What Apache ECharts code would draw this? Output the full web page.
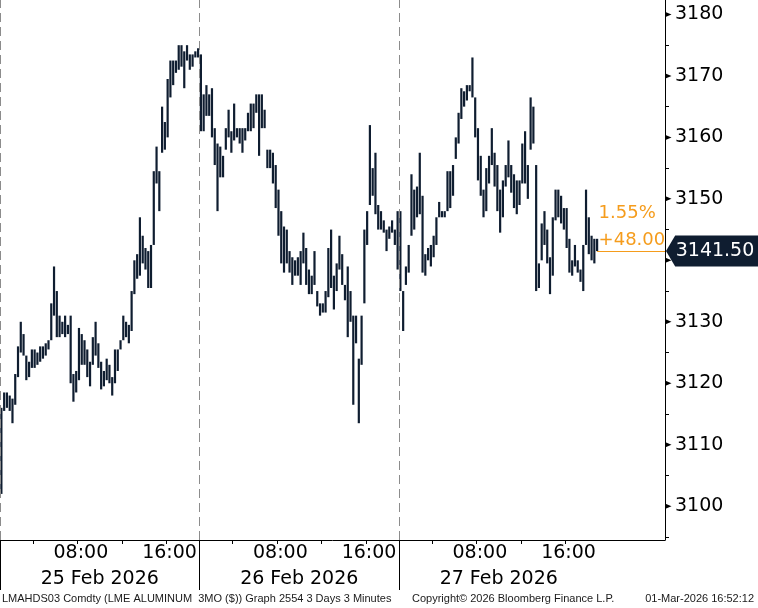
<!DOCTYPE html>
<html><head><meta charset="utf-8">
<script src="https://cdn.jsdelivr.net/npm/echarts@6/dist/echarts.min.js"></script>
<style>html,body{margin:0;padding:0;background:#fff}#c{width:758px;height:608px}</style>
</head><body><div id="c"></div>
<script>
// ---- data ----
const dateLabels = ['25 Feb 2026', '26 Feb 2026', '27 Feb 2026'];
const yLabels = [3100, 3110, 3120, 3130, 3140, 3150, 3160, 3170, 3180];
const yMinorTicks = [3095, 3105, 3115, 3125, 3135, 3145, 3155, 3165, 3175];
const lastPrice = 3141.5;
const changeAbs = '+48.00';
const changePct = '1.55%';
const footerLeft = 'LMAHDS03 Comdty (LME ALUMINUM  3MO ($)) Graph 2554 3 Days 3 Minutes';
const footerMid = 'Copyright\u00a9 2026 Bloomberg Finance L.P.';
const footerRight = '01-Mar-2026 16:52:12';

// 15-minute high/low ranges, session 01:00-19:00 London
const feb25Low = [3102.0,3115.5,3116.0,3115.5,3113.5,3116.5,3121.0,3125.0,3124.5,3120.5,3121.0,3122.5,3122.5,3123.0,3123.5,3124.0,3124.5,3125.5,3127.0,3131.0,3127.5,3127.5,3128.0,3127.5,3128.0,3120.0,3117.0,3118.5,3120.5,3123.0,3123.0,3121.0,3119.5,3123.0,3124.5,3122.5,
  3119.0,3119.5,3120.5,3120.0,3118.0,3120.0,3122.0,3125.5,3127.0,3127.5,3126.5,3128.5,3134.5,3137.0,3137.5,3139.5,3138.5,3135.5,3135.5,3142.5,3152.5,3148.0,3157.5,3158.0,3160.0,3166.5,3168.5,3170.5,3171.0,3171.5,3168.0,3172.5,3171.0,3171.5,3173.0,3173.0];
const feb25High = [3116.0,3118.5,3118.5,3118.0,3117.5,3121.5,3126.0,3130.0,3128.0,3124.5,3123.5,3125.5,3125.5,3125.0,3126.0,3126.0,3126.5,3127.0,3133.0,3139.0,3135.0,3131.0,3130.0,3131.0,3129.5,3131.0,3121.5,3122.0,3129.0,3128.0,3127.0,3125.5,3123.5,3127.5,3130.0,3126.5,
  3123.5,3122.0,3124.0,3123.0,3121.0,3125.5,3125.5,3127.0,3131.0,3130.0,3129.5,3135.0,3140.0,3141.0,3147.0,3144.0,3142.0,3141.5,3142.5,3154.5,3158.5,3154.5,3165.0,3162.5,3169.5,3172.5,3172.5,3172.5,3175.0,3175.0,3174.0,3175.0,3173.5,3173.5,3174.0,3174.5];
const feb26Low = [3161.0,3161.0,3163.5,3163.5,3160.0,3155.5,3148.0,3153.5,3153.5,3158.0,3160.0,3157.5,3159.5,3160.0,3159.0,3157.5,3159.5,3161.0,3161.0,3161.5,3164.0,3157.0,3161.5,3161.5,3155.0,3155.0,3152.5,3148.5,3144.0,3139.5,3138.0,3139.5,3138.0,3136.0,3137.5,3137.5,
  3136.0,3139.5,3136.0,3134.5,3134.5,3136.0,3132.5,3131.0,3131.5,3131.5,3134.0,3135.5,3132.0,3135.0,3138.5,3136.0,3133.5,3127.5,3130.0,3116.5,3126.5,3113.5,3123.0,3133.0,3142.5,3149.0,3150.5,3147.5,3145.0,3145.0,3144.5,3141.5,3143.5,3144.5,3142.5,3138.5];
const feb26High = [3173.5,3167.0,3168.5,3167.0,3168.0,3161.5,3159.0,3158.5,3157.0,3161.5,3164.5,3161.0,3165.5,3161.5,3161.5,3161.5,3161.5,3164.0,3165.5,3165.5,3167.0,3167.0,3167.0,3164.5,3158.0,3158.0,3157.5,3155.5,3151.5,3148.0,3145.5,3145.0,3141.5,3140.5,3140.0,3140.5,
  3141.5,3144.5,3142.0,3138.5,3137.5,3141.5,3135.0,3133.0,3133.0,3135.0,3142.0,3145.0,3137.5,3139.5,3144.0,3141.0,3136.0,3139.0,3135.0,3131.0,3131.0,3124.0,3131.0,3145.0,3148.0,3162.0,3155.0,3157.5,3149.0,3148.0,3146.5,3145.0,3145.5,3146.5,3145.0,3148.0];
const feb27Low = [3135.0,3128.5,3136.0,3138.0,3144.0,3145.0,3147.0,3147.5,3138.0,3137.5,3140.0,3139.0,3140.5,3142.5,3147.0,3147.0,3147.0,3148.0,3148.5,3150.5,3156.5,3159.0,3163.0,3165.0,3166.0,3167.5,3166.5,3160.0,3153.0,3150.5,3147.0,3148.0,3152.5,3155.5,3152.0,3148.0,
  3144.5,3147.0,3152.0,3153.5,3151.0,3148.5,3147.5,3149.0,3152.5,3152.5,3150.0,3158.0,3159.0,3135.0,3135.5,3140.0,3142.5,3139.5,3134.5,3137.5,3146.5,3147.0,3146.0,3145.0,3142.0,3138.0,3137.5,3139.0,3138.0,3136.5,3135.0,3142.5,3141.0,3140.0,3139.5,3141.5];
const feb27High = [3148.0,3135.0,3139.0,3142.5,3154.0,3151.5,3152.0,3157.5,3150.5,3141.0,3142.0,3142.5,3144.0,3147.0,3149.5,3148.0,3148.0,3154.5,3154.5,3155.5,3160.0,3164.0,3168.0,3167.5,3168.5,3168.5,3173.0,3166.5,3161.5,3157.0,3151.5,3155.0,3157.0,3161.5,3157.5,3155.5,
  3151.5,3153.0,3155.5,3159.5,3155.5,3154.0,3153.0,3153.0,3159.0,3161.0,3155.5,3166.5,3165.0,3155.5,3139.5,3146.0,3148.0,3145.0,3140.5,3147.0,3151.5,3151.5,3150.5,3148.5,3148.5,3143.5,3140.0,3142.5,3140.0,3138.5,3142.5,3151.5,3147.0,3144.0,3143.5,3143.5];

const sessionStart = 1;      // 01:00
const sessionLength = 18;    // hours per session
const barHours = 0.25;       // 15-minute bars
const axisHours = 60;
const hourTicks = [3, 7, 11, 15, 21, 25, 29, 33, 39, 43, 47, 51];
const hourLabelPos = [7, 15, 25, 33, 43, 51];
const datePos = [9, 27, 45];
const dayBreaks = [0, 18, 36];

const navy = '#0f1d30';
const orange = '#f59c1c';
const FONT = '"DejaVu Sans", Verdana, sans-serif';
const FOOT = '11px "Liberation Sans", Arial, sans-serif';

const days = [[feb25Low, feb25High], [feb26Low, feb26High], [feb27Low, feb27High]];
const bars = [];
days.forEach(([lo, hi], d) => lo.forEach((l, k) => bars.push([d * sessionLength + (k + 0.5) * barHours, l, hi[k]])));
const lastT = bars[bars.length - 1][0];

const chart = echarts.init(document.getElementById('c'), null, {renderer: 'canvas'});
const yMin = 3094.5, yMax = 3182.35;

const majorMarks = yLabels.map(v => ({
  coord: [axisHours, v], symbol: 'path://M0,0 L100,50 L0,100 Z', symbolSize: [6, 5], symbolKeepAspect: false,
  symbolOffset: [3.5, 0], itemStyle: {color: '#000'}, label: {show: false}
}));

chart.setOption({
  animation: false,
  backgroundColor: '#fff',
  grid: {left: 0, right: 93, top: 0, bottom: 68},
  xAxis: [
    {type: 'value', min: 0, max: axisHours, position: 'bottom',
     axisLine: {show: true, onZero: false, lineStyle: {color: '#000', width: 1}},
     axisTick: {show: true, customValues: hourTicks, length: 4, lineStyle: {color: '#000'}},
     axisLabel: {show: true, customValues: hourLabelPos.map(v => v + 0.3), margin: 4, fontSize: 19, fontFamily: FONT, color: '#000',
       formatter: v => { const h = Math.round(v - Math.floor(v / sessionLength) * sessionLength) + sessionStart; return (h < 10 ? '0' : '') + h + ':00'; }},
     splitLine: {show: false}},
    {type: 'value', min: 0, max: axisHours, position: 'bottom',
     axisLine: {show: false}, axisTick: {show: false},
     axisLabel: {show: true, customValues: datePos, margin: 30, fontSize: 19, fontFamily: FONT, color: '#000',
       formatter: v => dateLabels[Math.floor(v / sessionLength)]},
     splitLine: {show: false}},
    {type: 'value', min: 0, max: axisHours, position: 'bottom',
     axisLine: {show: false},
     axisTick: {show: true, customValues: dayBreaks, length: 50, lineStyle: {color: '#000', width: 1}},
     axisLabel: {show: false}, splitLine: {show: false}}
  ],
  yAxis: [
    {type: 'value', position: 'right', min: yMin, max: yMax,
     axisLine: {show: true, onZero: false, lineStyle: {color: '#000', width: 1}},
     axisTick: {show: true, customValues: yMinorTicks, length: 4, lineStyle: {color: '#000'}},
     axisLabel: {show: true, customValues: yLabels, margin: 10, fontSize: 19, fontFamily: FONT, color: '#000',
       formatter: v => String(Math.round(v))},
     splitLine: {show: false}}
  ],
  series: [{
    type: 'custom', xAxisIndex: 0, yAxisIndex: 0, data: bars, clip: false,
    renderItem: (params, api) => {
      const t = api.value(0), lo = api.value(1), hi = api.value(2);
      const p1 = api.coord([t, hi]), p2 = api.coord([t, lo]);
      return {type: 'rect', shape: {x: p1[0] - 1.1, y: p1[1], width: 2.2, height: Math.max(1, p2[1] - p1[1])}, style: {fill: navy}};
    },
    markLine: {
      silent: true, symbol: 'none', animation: false,
      label: {show: false},
      lineStyle: {color: '#8c8c8c', type: [9, 5], width: 1},
      data: dayBreaks.map(v => ({xAxis: v})).concat([[
        {coord: [lastT, lastPrice], lineStyle: {color: orange, type: 'solid', width: 1}},
        {coord: [axisHours, lastPrice]}
      ]])
    },
    markPoint: {
      silent: true, animation: false,
      data: majorMarks.concat([
        {coord: [axisHours, lastPrice], symbol: 'path://M0,50 L10,0 L100,0 L100,100 L10,100 Z', symbolSize: [92, 31], symbolKeepAspect: false,
         symbolOffset: [47, 0], itemStyle: {color: navy},
         label: {show: true, position: 'inside', offset: [3, 0], formatter: lastPrice.toFixed(2), color: '#fff', fontSize: 19, fontFamily: FONT}},
        {coord: [lastT, lastPrice], symbol: 'rect', symbolSize: 1, itemStyle: {color: 'rgba(0,0,0,0)'},
         label: {show: true, position: [2, 3], align: 'left', verticalAlign: 'bottom', formatter: changePct + '\n' + changeAbs,
           color: orange, fontSize: 18, lineHeight: 27, fontFamily: FONT}}
      ])
    }
  }],
  graphic: [
    {type: 'text', left: 2, top: 593, style: {text: footerLeft, font: FOOT, fill: '#1a1a1a'}},
    {type: 'text', left: 412, top: 593, style: {text: footerMid, font: FOOT, fill: '#1a1a1a'}},
    {type: 'text', right: 4, top: 593, style: {text: footerRight, font: FOOT, fill: '#1a1a1a'}}
  ]
});
</script></body></html>
